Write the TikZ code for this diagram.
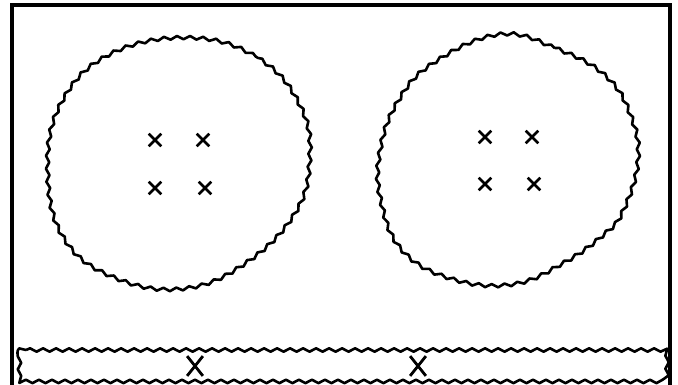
\documentclass[tikz,border=0pt]{standalone}
\usetikzlibrary{decorations.pathmorphing,shapes.misc}

\begin{document}
\begin{tikzpicture}[
  x=1pt, y=-1pt,
  frame/.style={draw, line width=3.4pt},
  wavy/.style={draw, line width=2.6pt, line join=round, decorate,
    decoration={snake, amplitude=1.7pt, segment length=13pt}},
  xmark/.style={cross out, draw, line width=2.6pt, minimum size=10pt, inner sep=0pt},
  bigxmark/.style={cross out, draw, line width=2.8pt, minimum width=13pt, minimum height=17pt, inner sep=0pt}
]
\useasboundingbox (0,0) rectangle (678,385);
\draw[frame] (12,5) rectangle (670,395);

% left colony
\draw[wavy] plot[smooth cycle, tension=0.7] coordinates {
  (190,36) (258,58) (298,105) (307,158) (292,212) (242,262)
  (180,287) (112,276) (62,238) (45,172) (58,102) (108,52)};
\node[xmark] (la) at (155,140) {};
\node[xmark] (lb) at (203,140) {};
\node[xmark] (lc) at (155,188) {};
\node[xmark] (ld) at (205,188) {};

% right colony
\draw[wavy] plot[smooth cycle, tension=0.7] coordinates {
  (497,33) (555,48) (603,75) (628,115) (635,160) (620,210)
  (600,234) (560,262) (510,283) (450,278) (400,250) (378,200)
  (377,150) (395,100) (430,62)};
\node[xmark] (ra) at (485,137) {};
\node[xmark] (rb) at (532,137) {};
\node[xmark] (rc) at (485,184) {};
\node[xmark] (rd) at (534,184) {};

% bottom strip
\draw[wavy] (26,350) -- (656,350) .. controls (666,350) and (666,350) .. (666,360)
  -- (666,371) .. controls (666,381) and (666,381) .. (656,381)
  -- (26,381) .. controls (17,381) and (17,381) .. (17,371)
  -- (17,360) .. controls (17,350) and (17,350) .. (26,350);
\node[bigxmark] (ba) at (195,366) {};
\node[bigxmark] (bb) at (418,366) {};
\end{tikzpicture}
\end{document}
